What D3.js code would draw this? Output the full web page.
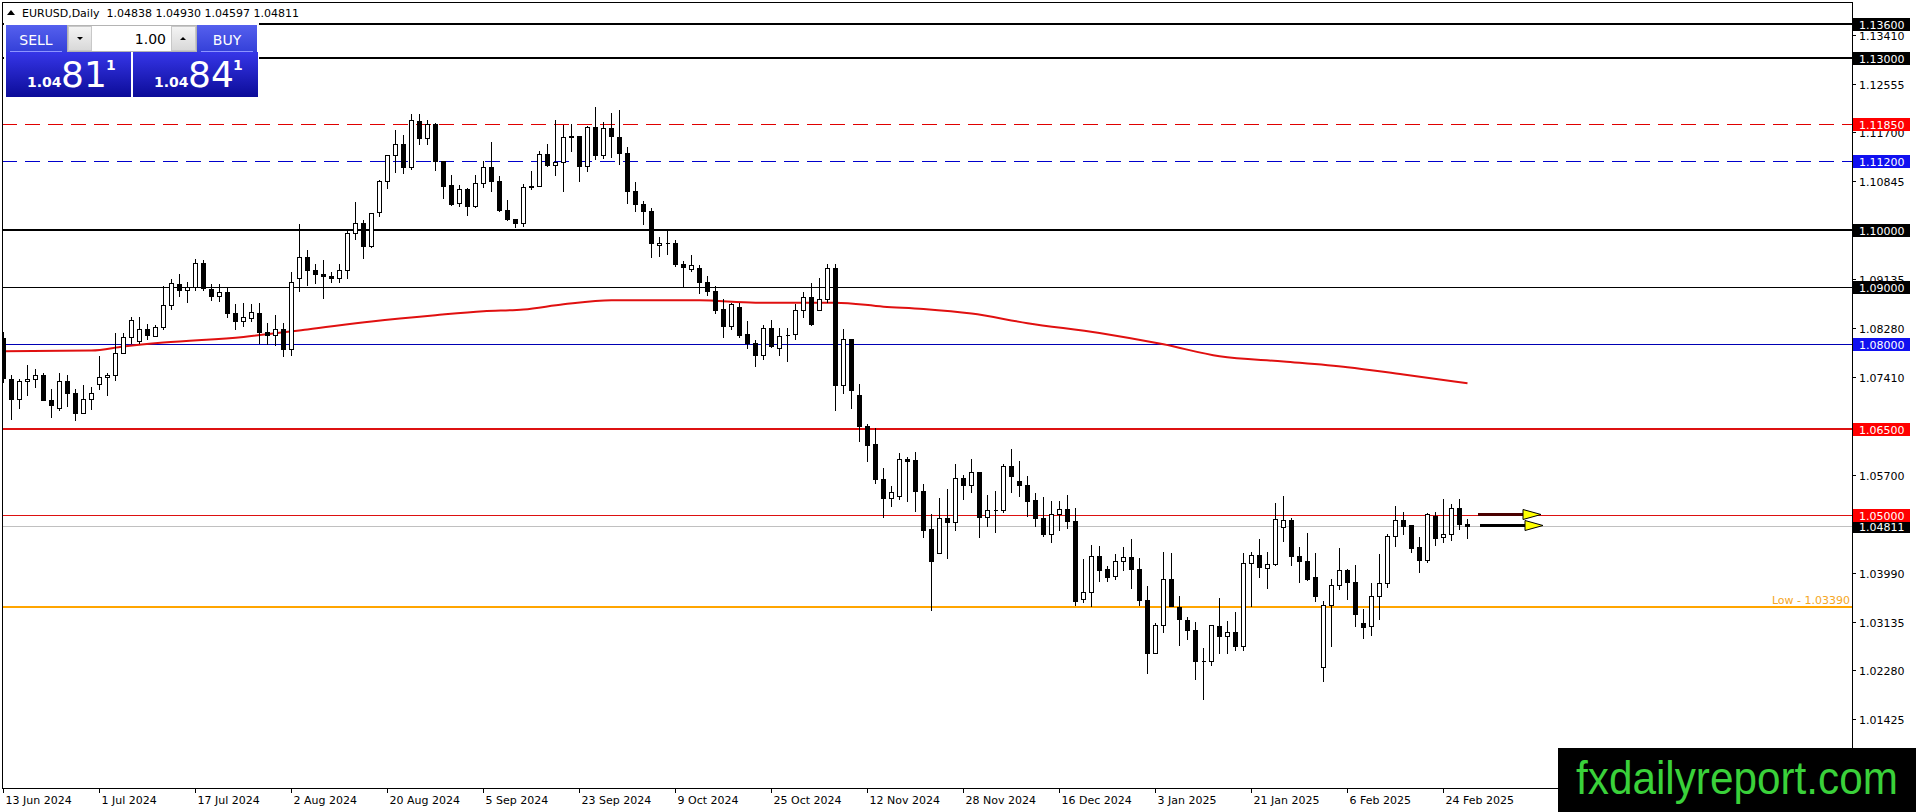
<!DOCTYPE html>
<html>
<head>
<meta charset="utf-8">
<script src="https://cdn.jsdelivr.net/npm/d3@7"></script>
<style>
  html, body { margin: 0; padding: 0; background: #fff; overflow: hidden; }
  svg { display: block; font-family: "DejaVu Sans", Verdana, sans-serif; }
</style>
</head>
<body>
<svg id="chart" width="1916" height="812"></svg>
<script>
// ---- data ----
var opens = [
  1.0810,1.0738,1.0704,1.0734,1.0739,1.0745,1.0701,1.0688,1.0734,1.0714,
  1.0679,1.0704,1.0730,1.0741,1.0745,1.0784,1.0811,1.0804,1.0825,1.0814,
  1.0829,1.0868,1.0904,1.0894,1.0900,1.0941,1.0896,1.0884,1.0891,1.0854,
  1.0840,1.0845,1.0853,1.0820,1.0815,1.0825,1.0790,1.0915,1.0952,1.0930,
  1.0922,1.0919,1.0916,1.0930,1.0994,1.1011,1.0972,1.1030,1.1085,1.1130,
  1.1150,1.1110,1.1190,1.1160,1.1185,1.1120,1.1078,1.1047,1.1071,1.1041,
  1.1081,1.1110,1.1085,1.1035,1.1019,1.1011,1.1075,1.1076,1.1132,1.1113,
  1.1118,1.1164,1.1164,1.1111,1.1180,1.1131,1.1178,1.1162,1.1134,1.1067,
  1.1045,1.1032,1.0973,1.0977,1.0977,1.0940,1.0931,1.0933,1.0908,1.0892,
  1.0861,1.0831,1.0864,1.0817,1.0802,1.0781,1.0828,1.0793,1.0815,1.0817,
  1.0859,1.0882,1.0860,1.0879,1.0933,1.0728,1.0808,1.0710,1.0656,1.0624,
  1.0564,1.0530,1.0533,1.0599,1.0596,1.0543,1.0475,1.0434,1.0494,1.0488,
  1.0565,1.0553,1.0575,1.0496,1.0508,1.0508,1.0586,1.0559,1.0553,1.0527,
  1.0495,1.0466,1.0502,1.0511,1.0490,1.0353,1.0365,1.0428,1.0405,1.0393,
  1.0419,1.0426,1.0405,1.0352,1.0259,1.0308,1.0388,1.0339,1.0317,1.0299,
  1.0244,1.0244,1.0306,1.0288,1.0296,1.0270,1.0416,1.0430,1.0407,1.0414,
  1.0479,1.0492,1.0429,1.0420,1.0391,1.0234,1.0343,1.0378,1.0403,1.0383,
  1.0311,1.0306,1.0359,1.0381,1.0464,1.0492,1.0483,1.0444,1.0421,1.0499,
  1.0461,1.0467,1.0512,1.04838
];
var highs = [
  1.0820,1.0746,1.0739,1.0762,1.0755,1.0749,1.0721,1.0748,1.0746,1.0720,
  1.0727,1.0725,1.0779,1.0749,1.0818,1.0818,1.0846,1.0846,1.0835,1.0832,
  1.0902,1.0913,1.0923,1.0908,1.0948,1.0947,1.0904,1.0904,1.0898,1.0869,
  1.0872,1.0870,1.0872,1.0837,1.0851,1.0837,1.0926,1.1010,1.0964,1.0939,
  1.0947,1.0926,1.0940,1.1000,1.1049,1.1017,1.1029,1.1087,1.1131,1.1174,
  1.1166,1.1203,1.1203,1.1192,1.1187,1.1120,1.1096,1.1078,1.1072,1.1096,
  1.1120,1.1153,1.1093,1.1051,1.1019,1.1079,1.1103,1.1138,1.1149,1.1191,
  1.1183,1.1184,1.1164,1.1181,1.1215,1.1189,1.1204,1.1210,1.1145,1.1083,
  1.1050,1.1038,1.0987,1.0998,1.0982,1.0945,1.0955,1.0938,1.0918,1.0902,
  1.0878,1.0872,1.0872,1.0840,1.0807,1.0832,1.0842,1.0828,1.0828,1.0869,
  1.0891,1.0907,1.0916,1.0939,1.0939,1.0826,1.0808,1.0729,1.0659,1.0653,
  1.0583,1.0551,1.0608,1.0602,1.0610,1.0554,1.0501,1.0530,1.0545,1.0589,
  1.0571,1.0598,1.0575,1.0536,1.0543,1.0590,1.0615,1.0594,1.0568,1.0539,
  1.0532,1.0524,1.0524,1.0536,1.0512,1.0423,1.0448,1.0446,1.0410,1.0431,
  1.0444,1.0458,1.0425,1.0375,1.0311,1.0436,1.0433,1.0359,1.0321,1.0312,
  1.0267,1.0308,1.0355,1.0314,1.0330,1.0433,1.0436,1.0458,1.0436,1.0521,
  1.0534,1.0495,1.0444,1.0468,1.0433,1.0349,1.0388,1.0442,1.0405,1.0413,
  1.0335,1.0381,1.0431,1.0466,1.0515,1.0506,1.0483,1.0461,1.0504,1.0505,
  1.0528,1.0520,1.0528,1.04930
];
var lows = [
  1.0733,1.0669,1.0687,1.0710,1.0725,1.0701,1.0672,1.0684,1.0691,1.0667,
  1.0678,1.0686,1.0720,1.0710,1.0737,1.0783,1.0802,1.0802,1.0808,1.0813,
  1.0825,1.0861,1.0884,1.0873,1.0895,1.0894,1.0877,1.0875,1.0846,1.0826,
  1.0831,1.0839,1.0802,1.0799,1.0798,1.0778,1.0780,1.0893,1.0903,1.0906,
  1.0881,1.0909,1.0909,1.0915,1.0983,1.0950,1.0970,1.1023,1.1072,1.1100,
  1.1099,1.1106,1.1150,1.1150,1.1104,1.1056,1.1043,1.1041,1.1026,1.1039,
  1.1074,1.1067,1.1032,1.1016,1.1004,1.1006,1.1071,1.1076,1.1112,1.1096,
  1.1068,1.1137,1.1085,1.1102,1.1123,1.1125,1.1127,1.1115,1.1047,1.1033,
  1.1009,1.0952,1.0954,1.0957,1.0936,1.0900,1.0927,1.0889,1.0886,1.0854,
  1.0812,1.0826,1.0812,1.0793,1.0761,1.0773,1.0795,1.0781,1.0770,1.0809,
  1.0846,1.0832,1.0859,1.0873,1.0684,1.0714,1.0688,1.0630,1.0595,1.0557,
  1.0497,1.0516,1.0528,1.0525,1.0507,1.0462,1.0334,1.0434,1.0425,1.0474,
  1.0529,1.0541,1.0461,1.0480,1.0471,1.0506,1.0541,1.0533,1.0498,1.0480,
  1.0463,1.0452,1.0474,1.0477,1.0343,1.0347,1.0341,1.0384,1.0384,1.0388,
  1.0404,1.0372,1.0343,1.0223,1.0258,1.0295,1.0340,1.0273,1.0283,1.0213,
  1.0178,1.0238,1.0258,1.0259,1.0264,1.0264,1.0341,1.0391,1.0372,1.0413,
  1.0454,1.0413,1.0382,1.0386,1.0349,1.0210,1.0271,1.0370,1.0353,1.0306,
  1.0285,1.0290,1.0318,1.0374,1.0446,1.0467,1.0435,1.0400,1.0417,1.0448,
  1.0452,1.0456,1.0475,1.04597
];
var closes = [
  1.0740,1.0704,1.0734,1.0739,1.0745,1.0702,1.0693,1.0734,1.0714,1.0679,
  1.0704,1.0714,1.0741,1.0746,1.0784,1.0812,1.0841,1.0825,1.0815,1.0830,
  1.0868,1.0907,1.0894,1.0900,1.0941,1.0898,1.0884,1.0891,1.0854,1.0840,
  1.0846,1.0855,1.0820,1.0815,1.0825,1.0790,1.0909,1.0952,1.0930,1.0922,
  1.0919,1.0915,1.0930,1.0994,1.1011,1.0972,1.1029,1.1085,1.1130,1.1150,
  1.1110,1.1192,1.1160,1.1185,1.1120,1.1076,1.1045,1.1071,1.1041,1.1081,
  1.1110,1.1085,1.1034,1.1019,1.1011,1.1075,1.1076,1.1132,1.1113,1.1118,
  1.1162,1.1162,1.1111,1.1180,1.1131,1.1178,1.1163,1.1134,1.1067,1.1044,
  1.1032,1.0976,1.0977,1.0976,1.0939,1.0934,1.0938,1.0908,1.0892,1.0860,
  1.0831,1.0869,1.0815,1.0801,1.0781,1.0828,1.0796,1.0814,1.0815,1.0860,
  1.0882,1.0834,1.0879,1.0933,1.0728,1.0808,1.0719,1.0656,1.0623,1.0564,
  1.0530,1.0540,1.0599,1.0595,1.0542,1.0474,1.0420,1.0495,1.0488,1.0565,
  1.0553,1.0576,1.0496,1.0508,1.0508,1.0586,1.0568,1.0552,1.0525,1.0495,
  1.0466,1.0502,1.0511,1.0489,1.0350,1.0365,1.0428,1.0403,1.0391,1.0419,
  1.0426,1.0405,1.0352,1.0259,1.0308,1.0388,1.0340,1.0318,1.0298,1.0244,
  1.0244,1.0307,1.0288,1.0296,1.0270,1.0416,1.0430,1.0409,1.0414,1.0493,
  1.0492,1.0429,1.0419,1.0388,1.0359,1.0343,1.0378,1.0403,1.0382,1.0327,
  1.0304,1.0359,1.0381,1.0464,1.0492,1.0481,1.0443,1.0421,1.0501,1.0460,
  1.0467,1.0512,1.0484,1.04811
];

// moving average, sampled at these bars
var maBars   = [0, 11, 15, 20, 30, 38, 46, 54, 60, 65, 70, 76, 87, 94, 104, 110, 115, 121, 128, 137, 145, 152, 160, 168, 175, 183];
var maValues = [1.0787,1.0788,1.0795,1.0802,1.0812,1.0825,1.0839,1.0850,1.0857,1.0860,1.0869,1.0876,1.0876,1.0872,1.0872,1.0865,1.0861,1.0853,1.0836,1.0819,1.0799,1.0778,1.0769,1.0759,1.0746,1.0731];

var dateLabels = ["13 Jun 2024","1 Jul 2024","17 Jul 2024","2 Aug 2024","20 Aug 2024","5 Sep 2024",
  "23 Sep 2024","9 Oct 2024","25 Oct 2024","12 Nov 2024","28 Nov 2024","16 Dec 2024",
  "3 Jan 2025","21 Jan 2025","6 Feb 2025","24 Feb 2025"];
var dateBars = [0, 12, 24, 36, 48, 60, 72, 84, 96, 108, 120, 132, 144, 156, 168, 180];

var priceTicks = [1.13410, 1.12555, 1.11700, 1.10845, 1.09990, 1.09135, 1.08280, 1.07410,
  1.06555, 1.05700, 1.04845, 1.03990, 1.03135, 1.02280, 1.01425];

var levelPrices = [1.13600, 1.13000, 1.11850, 1.11200, 1.10000, 1.09000, 1.08000, 1.06500, 1.05000];
var bidPrice = 1.04811;
var askPrice = 1.04841;
var lowPrice = 1.03390;
var arrowPrices = [1.05000, 1.04811];
var lastBar = [1.04838, 1.04930, 1.04597, 1.04811];
var lotSize = "1.00";

// ---- drawing ----
var W = 1916, H = 812;
var plotL = 2, plotR = 1852, plotT = 2, plotB = 788;

var svg = d3.select("#chart");

var y = d3.scaleLinear().domain([1.0022, 1.139853]).range([plotB, plotT]);
var x = d3.scaleLinear().domain([0, opens.length - 1]).range([3, 3 + 8 * (opens.length - 1)]);

var levelStyle = {
  "1.13600": { c: "#000", w: 2, box: "#000" },
  "1.13000": { c: "#000", w: 2, box: "#000" },
  "1.11850": { c: "#e00000", w: 1, dash: "15,8", box: "#ff0000" },
  "1.11200": { c: "#0000cc", w: 1, dash: "15,8", box: "#1010f0" },
  "1.10000": { c: "#000", w: 2, box: "#000" },
  "1.09000": { c: "#000", w: 1, box: "#000" },
  "1.08000": { c: "#0000b4", w: 1, box: "#1010f0" },
  "1.06500": { c: "#dd1111", w: 2, box: "#ff0000" },
  "1.05000": { c: "#dd1111", w: 1, box: "#ff0000" }
};

function py(p, w) {
  var v = Math.round(y(p));
  return (w % 2 === 1) ? v + 0.5 : v;
}

var defs = svg.append("defs");
defs.append("clipPath").attr("id", "plot")
  .append("rect").attr("x", plotL + 1).attr("y", plotT + 1)
  .attr("width", plotR - plotL - 1).attr("height", plotB - plotT - 1);

var g1 = defs.append("linearGradient").attr("id", "btnTop").attr("x1", 0).attr("y1", 0).attr("x2", 0).attr("y2", 1);
g1.append("stop").attr("offset", "0%").attr("stop-color", "#5560ee");
g1.append("stop").attr("offset", "100%").attr("stop-color", "#3440d8");
var g2 = defs.append("linearGradient").attr("id", "btnPrice").attr("x1", 0).attr("y1", 0).attr("x2", 0).attr("y2", 1);
g2.append("stop").attr("offset", "0%").attr("stop-color", "#3636e8");
g2.append("stop").attr("offset", "100%").attr("stop-color", "#0c0c98");
var g3 = defs.append("linearGradient").attr("id", "spin").attr("x1", 0).attr("y1", 0).attr("x2", 0).attr("y2", 1);
g3.append("stop").attr("offset", "0%").attr("stop-color", "#f4f4f4");
g3.append("stop").attr("offset", "100%").attr("stop-color", "#d8d8d8");

svg.append("rect").attr("width", W).attr("height", H).attr("fill", "#fff");

var plot = svg.append("g").attr("clip-path", "url(#plot)");

// horizontal levels
levelPrices.forEach(function (p) {
  var s = levelStyle[p.toFixed(5)];
  plot.append("line")
    .attr("x1", plotL).attr("x2", plotR)
    .attr("y1", py(p, s.w)).attr("y2", py(p, s.w))
    .attr("stroke", s.c).attr("stroke-width", s.w)
    .attr("stroke-dasharray", s.dash || null)
    .attr("shape-rendering", "crispEdges");
});
plot.append("line")
  .attr("x1", plotL).attr("x2", plotR)
  .attr("y1", py(bidPrice, 1)).attr("y2", py(bidPrice, 1))
  .attr("stroke", "#c0c0c0").attr("stroke-width", 1)
  .attr("shape-rendering", "crispEdges");
plot.append("line")
  .attr("x1", plotL).attr("x2", plotR)
  .attr("y1", py(lowPrice, 2)).attr("y2", py(lowPrice, 2))
  .attr("stroke", "#ffa500").attr("stroke-width", 2)
  .attr("shape-rendering", "crispEdges");
plot.append("text")
  .attr("x", plotR - 2).attr("y", py(lowPrice, 2) - 3)
  .attr("text-anchor", "end").attr("font-size", 11).attr("fill", "#f5a623")
  .text("Low - " + lowPrice.toFixed(5));

// moving average
var maLine = d3.line()
  .x(function (d, i) { return x(maBars[i]) + 0.5; })
  .y(function (d) { return y(d); })
  .curve(d3.curveMonotoneX);
plot.append("path").datum(maValues)
  .attr("d", maLine)
  .attr("fill", "none").attr("stroke", "#e01010").attr("stroke-width", 2);

// candles
var idx = d3.range(opens.length);
var candles = plot.append("g").attr("shape-rendering", "crispEdges");
candles.selectAll("rect.wick").data(idx).enter().append("rect")
  .attr("class", "wick")
  .attr("x", function (i) { return x(i); })
  .attr("width", 1)
  .attr("y", function (i) { return Math.round(y(highs[i])); })
  .attr("height", function (i) { return Math.round(y(lows[i])) - Math.round(y(highs[i])) + 1; })
  .attr("fill", "#000");
candles.selectAll("path.body").data(idx).enter().append("path")
  .attr("class", "body")
  .attr("d", function (i) {
    var top = Math.round(y(Math.max(opens[i], closes[i]))) + 0.5;
    var bot = Math.round(y(Math.min(opens[i], closes[i]))) + 0.5;
    var cx = x(i);
    return "M" + (cx - 1.5) + "," + top + "H" + (cx + 2.5) + "V" + bot + "H" + (cx - 1.5) + "Z";
  })
  .attr("fill", function (i) { return closes[i] >= opens[i] ? "#fff" : "#000"; })
  .attr("stroke", "#000").attr("stroke-width", 1);

// arrows at the last bar
var arrowColors = ["#4a0000", "#000"];
arrowPrices.forEach(function (p, k) {
  var ay = Math.round(y(p)) - 0.5;
  var ax0 = x(opens.length - 1) + 11 + k * 2;
  plot.append("line")
    .attr("x1", ax0).attr("x2", ax0 + 48)
    .attr("y1", ay).attr("y2", ay)
    .attr("stroke", arrowColors[k]).attr("stroke-width", 3);
  plot.append("path")
    .attr("d", "M" + (ax0 + 45) + "," + (ay - 5) + "L" + (ax0 + 63) + "," + ay + "L" + (ax0 + 45) + "," + (ay + 5) + "Z")
    .attr("fill", "#ffff00").attr("stroke", "#000").attr("stroke-width", 1);
});

// frame
svg.append("rect")
  .attr("x", plotL + 0.5).attr("y", plotT + 0.5)
  .attr("width", plotR - plotL).attr("height", plotB - plotT)
  .attr("fill", "none").attr("stroke", "#000").attr("shape-rendering", "crispEdges");

// price axis ticks
var yAx = svg.append("g").attr("font-size", 11).attr("fill", "#000");
priceTicks.forEach(function (p) {
  var ty = py(p, 1);
  yAx.append("line").attr("x1", plotR).attr("x2", plotR + 4).attr("y1", ty).attr("y2", ty)
    .attr("stroke", "#000").attr("shape-rendering", "crispEdges");
  yAx.append("text").attr("x", plotR + 7).attr("y", ty + 4).text(p.toFixed(5));
});

function priceBox(p, fill) {
  var ty = Math.round(y(p));
  yAx.append("rect").attr("x", plotR + 1).attr("y", ty - 6).attr("width", 57).attr("height", 13)
    .attr("fill", fill).attr("shape-rendering", "crispEdges");
  yAx.append("text").attr("x", plotR + 7).attr("y", ty + 4.5).attr("fill", "#fff").text(p.toFixed(5));
}
priceBox(bidPrice, "#000");
levelPrices.forEach(function (p) { priceBox(p, levelStyle[p.toFixed(5)].box); });

// date axis
var xAx = svg.append("g").attr("font-size", 11).attr("fill", "#000");
dateBars.forEach(function (b, k) {
  var tx = x(b) + 0.5;
  xAx.append("line").attr("x1", tx).attr("x2", tx).attr("y1", plotB).attr("y2", plotB + 5)
    .attr("stroke", "#000").attr("shape-rendering", "crispEdges");
  xAx.append("text").attr("x", tx + 2).attr("y", plotB + 16).text(dateLabels[k]);
});

// title
svg.append("path").attr("d", "M7,15L11,10L15,15Z").attr("fill", "#000");
svg.append("text").attr("x", 22).attr("y", 17).attr("font-size", 11)
  .style("white-space", "pre")
  .text("EURUSD,Daily  " + lastBar.map(function (v) { return v.toFixed(5); }).join(" "));

// one-click trading panel
var panel = svg.append("g");
panel.append("rect").attr("x", 4).attr("y", 22).attr("width", 255).attr("height", 77).attr("fill", "#fff");
panel.append("rect").attr("x", 6).attr("y", 25).attr("width", 61).attr("height", 27).attr("fill", "url(#btnTop)");
panel.append("rect").attr("x", 197).attr("y", 25).attr("width", 60).attr("height", 27).attr("fill", "url(#btnTop)");
panel.append("line").attr("x1", 10).attr("x2", 62).attr("y1", 51.5).attr("y2", 51.5).attr("stroke", "#8c94ff");
panel.append("line").attr("x1", 201).attr("x2", 253).attr("y1", 51.5).attr("y2", 51.5).attr("stroke", "#8c94ff");
panel.append("text").attr("x", 36).attr("y", 45).attr("text-anchor", "middle").attr("font-size", 14).attr("fill", "#fff").text("SELL");
panel.append("text").attr("x", 227).attr("y", 45).attr("text-anchor", "middle").attr("font-size", 14).attr("fill", "#fff").text("BUY");
// lot spinner
panel.append("rect").attr("x", 67.5).attr("y", 25.5).attr("width", 129).attr("height", 26).attr("fill", "#fff").attr("stroke", "#b4b4b4");
panel.append("rect").attr("x", 68.5).attr("y", 26.5).attr("width", 23).attr("height", 24).attr("fill", "url(#spin)").attr("stroke", "#c8c8c8");
panel.append("rect").attr("x", 171.5).attr("y", 26.5).attr("width", 24).attr("height", 24).attr("fill", "url(#spin)").attr("stroke", "#c8c8c8");
panel.append("path").attr("d", "M77,37L83,37L80,40Z").attr("fill", "#000");
panel.append("path").attr("d", "M180,40L186,40L183,37Z").attr("fill", "#000");
panel.append("text").attr("x", 166).attr("y", 44).attr("text-anchor", "end").attr("font-size", 14).attr("fill", "#000").text(lotSize);
// price buttons
function quote(px0, price) {
  var s = price.toFixed(5);
  panel.append("rect").attr("x", px0).attr("y", 52).attr("width", 125).attr("height", 45).attr("fill", "url(#btnPrice)");
  panel.append("text").attr("x", px0 + 21).attr("y", 87).attr("font-size", 14).attr("font-weight", "bold").attr("fill", "#fff").text(s.slice(0, 4));
  panel.append("text").attr("x", px0 + 55).attr("y", 87).attr("font-size", 36).attr("fill", "#fff").text(s.slice(4, 6));
  panel.append("text").attr("x", px0 + 100).attr("y", 70).attr("font-size", 14).attr("font-weight", "bold").attr("fill", "#fff").text(s.slice(6));
}
quote(6, bidPrice);
quote(133, askPrice);

// watermark
svg.append("rect").attr("x", 1558).attr("y", 748).attr("width", 358).attr("height", 64).attr("fill", "#000");
svg.append("text").attr("x", 1576).attr("y", 794)
  .attr("font-family", "'Liberation Sans Narrow','Liberation Sans',Arial,sans-serif")
  .attr("font-size", 46).attr("fill", "#3ad13a")
  .attr("textLength", 322).attr("lengthAdjust", "spacingAndGlyphs")
  .text("fxdailyreport.com");
</script>
</body>
</html>
